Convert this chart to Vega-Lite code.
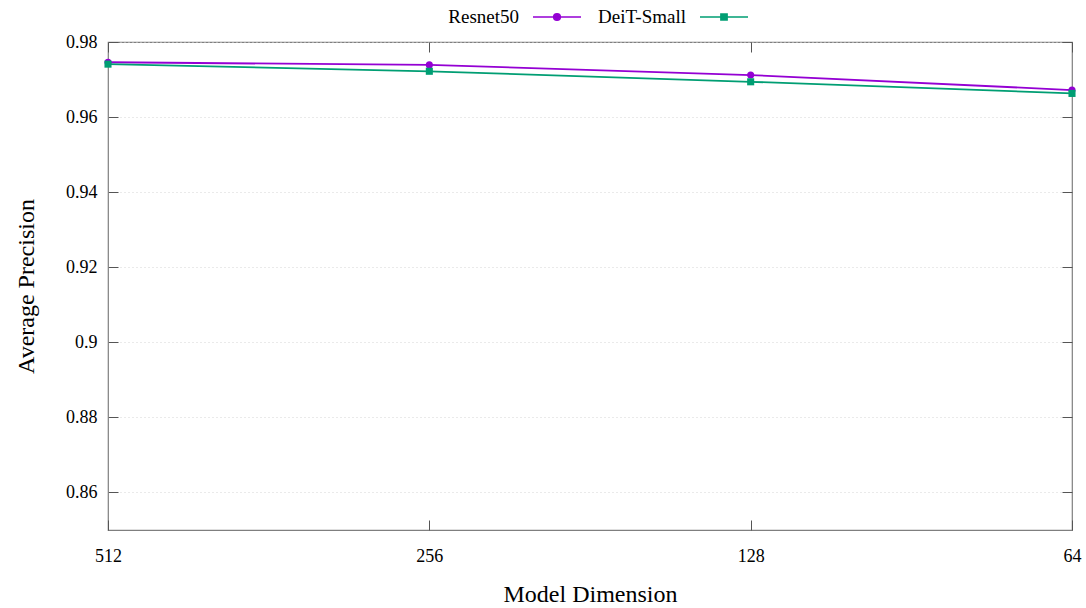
{
  "$schema": "https://vega.github.io/schema/vega-lite/v6.json",
  "width": 964,
  "height": 488,
  "autosize": {"type": "none"},
  "padding": {"left": 108, "top": 42, "right": 14, "bottom": 78},
  "background": "white",
  "config": {
    "font": "Liberation Serif",
    "view": {"stroke": "#7f7f7f", "strokeWidth": 1.2},
    "axis": {
      "domain": false,
      "tickColor": "#555555",
      "tickSize": -10,
      "tickWidth": 1,
      "labelFont": "Liberation Serif",
      "labelFontSize": 18,
      "labelColor": "black",
      "titleFont": "Liberation Serif",
      "titleFontSize": 24,
      "titleFontWeight": "normal",
      "titleColor": "black",
      "grid": false
    },
    "legend": {
      "labelFont": "Liberation Serif",
      "labelFontSize": 19,
      "labelColor": "black"
    }
  },
  "data": {
    "values": [
      {"dim": "512", "model": "Resnet50", "ap": 0.9746},
      {"dim": "256", "model": "Resnet50", "ap": 0.9739},
      {"dim": "128", "model": "Resnet50", "ap": 0.9712},
      {"dim": "64", "model": "Resnet50", "ap": 0.9672},
      {"dim": "512", "model": "DeiT-Small", "ap": 0.9741},
      {"dim": "256", "model": "DeiT-Small", "ap": 0.9722},
      {"dim": "128", "model": "DeiT-Small", "ap": 0.9694},
      {"dim": "64", "model": "DeiT-Small", "ap": 0.9663}
    ]
  },
  "layer": [
    {
      "mark": {"type": "line", "strokeWidth": 1.8},
      "encoding": {
        "x": {
          "field": "dim", "type": "ordinal", "sort": ["512", "256", "128", "64"],
          "scale": {"type": "point", "padding": 0},
          "axis": {"orient": "bottom", "title": "Model Dimension", "labelAngle": 0, "labelPadding": 27, "titlePadding": 17}
        },
        "y": {
          "field": "ap", "type": "quantitative",
          "scale": {"domain": [0.85, 0.98], "nice": false, "zero": false},
          "axis": {"orient": "left", "title": "Average Precision", "values": [0.86, 0.88, 0.9, 0.92, 0.94, 0.96, 0.98], "format": ".2~f", "labelPadding": 21, "titlePadding": 27, "grid": true, "gridColor": "#d4d4d4", "gridDash": [1, 3], "gridWidth": 1}
        },
        "color": {
          "field": "model", "type": "nominal",
          "sort": ["Resnet50", "DeiT-Small"],
          "scale": {"domain": ["Resnet50", "DeiT-Small"], "range": ["#9400D3", "#009E73"]},
          "legend": {
            "orient": "none", "legendX": 424, "legendY": -50,
            "direction": "horizontal", "title": null,
            "symbolSize": 2304, "symbolStrokeWidth": 1.5,
            "labelAlign": "right", "labelOffset": -63,
            "columnPadding": 14,
            "encode": {
              "symbols": {
                "update": {
                  "shape": {"signal": "datum.value == 'Resnet50' ? 'M-1,0L1,0M-0.14,0A0.14,0.14,0,1,0,0.14,0A0.14,0.14,0,1,0,-0.14,0Z' : 'M-1,0L1,0M-0.13,-0.13L0.13,-0.13L0.13,0.13L-0.13,0.13Z'"},
                  "fill": {"scale": "color", "field": "value"},
                  "stroke": {"scale": "color", "field": "value"},
                  "strokeWidth": {"value": 1.5},
                  "opacity": {"value": 1},
                  "fillOpacity": {"value": 1}
                }
              }
            }
          }
        }
      }
    },
    {
      "transform": [{"filter": "datum.model == 'Resnet50'"}],
      "mark": {"type": "point", "shape": "circle", "filled": true, "opacity": 1, "size": 50},
      "encoding": {
        "x": {
          "field": "dim", "type": "ordinal", "sort": ["512", "256", "128", "64"],
          "scale": {"type": "point", "padding": 0},
          "axis": {"orient": "top", "title": null, "labels": false}
        },
        "y": {
          "field": "ap", "type": "quantitative",
          "scale": {"domain": [0.85, 0.98], "nice": false, "zero": false},
          "axis": {"orient": "right", "title": null, "labels": false, "values": [0.86, 0.88, 0.9, 0.92, 0.94, 0.96, 0.98]}
        },
        "color": {"field": "model", "type": "nominal", "legend": null}
      }
    },
    {
      "transform": [{"filter": "datum.model == 'DeiT-Small'"}],
      "mark": {"type": "point", "shape": "square", "filled": true, "opacity": 1, "size": 50},
      "encoding": {
        "x": {
          "field": "dim", "type": "ordinal", "sort": ["512", "256", "128", "64"],
          "scale": {"type": "point", "padding": 0},
          "axis": null
        },
        "y": {
          "field": "ap", "type": "quantitative",
          "scale": {"domain": [0.85, 0.98], "nice": false, "zero": false},
          "axis": null
        },
        "color": {"field": "model", "type": "nominal", "legend": null}
      }
    }
  ],
  "resolve": {"axis": {"x": "independent", "y": "independent"}}
}
